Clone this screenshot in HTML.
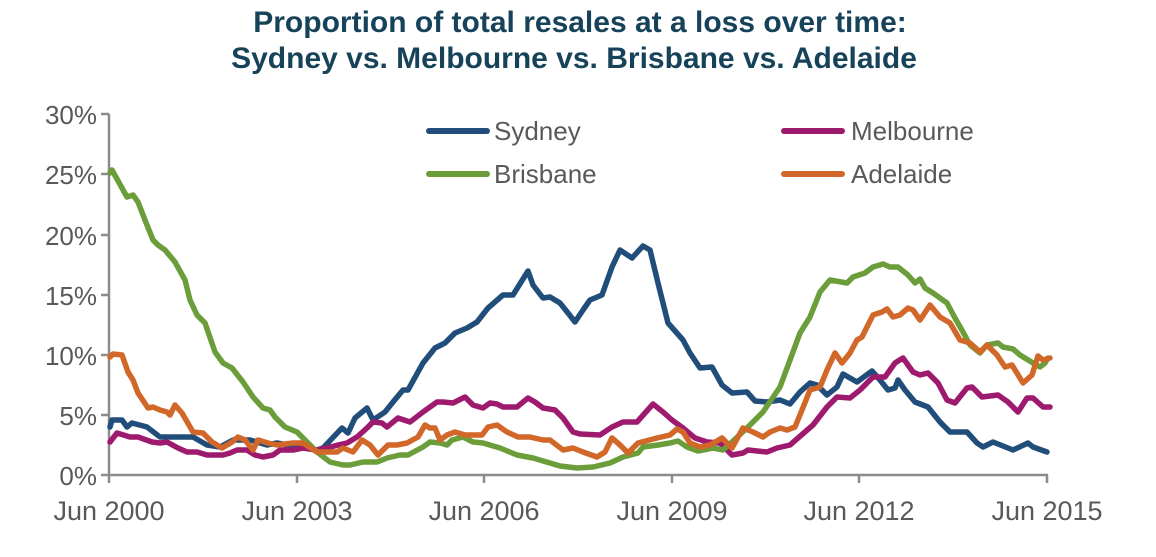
<!DOCTYPE html>
<html><head><meta charset="utf-8"><style>
body{margin:0;background:#fff;width:1156px;height:552px;overflow:hidden;font-family:"Liberation Sans",Arial,sans-serif}
</style></head><body>
<svg width="1156" height="552" viewBox="0 0 1156 552" xmlns="http://www.w3.org/2000/svg">
<g font-family="Liberation Sans, Arial, sans-serif" font-weight="bold" font-size="30" fill="#17435a" text-anchor="middle">
<text x="580" y="32">Proportion of total resales at a loss over time:</text>
<text x="574" y="68">Sydney vs. Melbourne vs. Brisbane vs. Adelaide</text>
</g>
<g stroke="#8c8c8c" stroke-width="2.5" fill="none">
<line x1="109" y1="114" x2="109" y2="476"/>
<line x1="109" y1="475" x2="1048" y2="475"/>
<path d="M101 114H109M101 174H109M101 235H109M101 295H109M101 355H109M101 415H109M101 475H109"/>
<path d="M109 475V483M297 475V483M484 475V483M672 475V483M859 475V483M1047 475V483"/>
</g>
<g font-size="26" fill="#595959" text-anchor="end">
<text x="97" y="124">30%</text><text x="97" y="184">25%</text><text x="97" y="245">20%</text>
<text x="97" y="305">15%</text><text x="97" y="365">10%</text><text x="97" y="425">5%</text><text x="97" y="485">0%</text>
</g>
<g font-size="27" fill="#595959" text-anchor="middle">
<text x="109" y="520">Jun 2000</text><text x="297" y="520">Jun 2003</text><text x="484" y="520">Jun 2006</text>
<text x="672" y="520">Jun 2009</text><text x="859" y="520">Jun 2012</text><text x="1047" y="520">Jun 2015</text>
</g>
<g fill="none" stroke-width="5.5" stroke-linejoin="round" stroke-linecap="round">
<polyline stroke="#214d7a" points="110,427 112,420 122,420 127,427 132,423 147,427 160,437 187,437 193,437 207,445 220,447 233,440 250,440 267,445 277,443 297,447 317,450 323,448 342,428 348,433 355,418 367,408 373,420 385,412 393,402 403,390 408,390 423,363 435,348 445,343 455,333 467,328 477,322 488,308 503,295 513,295 528,271 533,285 543,298 550,297 560,303 568,313 575,322 583,310 590,300 602,295 612,267 620,250 632,258 643,246 650,250 658,283 668,323 683,340 690,353 700,368 712,367 722,385 732,393 747,392 755,401 767,402 780,400 790,404 800,392 810,383 817,385 827,395 837,387 843,374 857,382 872,371 880,380 888,390 895,388 898,380 905,390 915,402 928,407 940,422 950,432 967,432 977,443 983,447 993,442 1013,450 1028,443 1033,447 1047,452"/>
<polyline stroke="#9e1a6e" points="110,442 117,433 130,437 138,437 152,442 160,443 167,442 178,448 187,452 197,452 207,455 223,455 230,453 237,450 247,450 255,455 263,457 273,455 280,450 293,450 303,448 317,450 327,448 338,445 347,443 357,437 367,428 373,422 382,423 387,427 398,418 410,422 423,412 437,402 443,402 453,403 465,397 473,405 483,408 490,403 497,404 503,407 517,407 528,398 535,402 543,408 555,410 563,418 573,432 580,434 600,435 612,427 623,422 637,422 645,413 653,404 663,412 672,420 683,428 695,438 707,442 720,443 732,455 743,453 748,450 767,452 777,448 790,445 798,438 813,425 827,407 837,397 850,398 860,390 873,377 885,377 895,363 903,358 913,372 920,375 928,373 938,383 947,400 955,403 967,388 972,387 982,397 998,395 1008,402 1018,412 1027,398 1033,398 1043,407 1050,407"/>
<polyline stroke="#6b9e3a" points="110,173 112,170 122,188 127,197 133,195 138,202 145,220 153,240 158,245 165,250 175,262 185,280 190,300 197,315 205,323 215,352 223,363 232,368 243,382 253,397 263,408 270,410 275,417 285,427 297,432 307,442 317,452 330,462 343,465 350,465 363,462 377,462 387,458 400,455 408,455 423,447 430,442 440,443 447,445 452,440 463,437 473,442 483,443 500,448 517,455 533,458 550,463 560,466 577,468 593,467 610,463 623,457 638,453 643,447 658,445 670,443 678,441 687,447 698,451 713,448 723,450 733,441 747,428 763,412 780,387 790,360 800,333 810,317 820,292 830,280 847,283 853,277 865,273 873,267 883,264 890,267 898,267 908,275 915,283 920,279 925,288 933,293 947,303 955,318 963,332 970,345 980,353 987,345 998,343 1003,347 1013,349 1020,355 1033,363 1040,367 1045,363 1048,358"/>
<polyline stroke="#d2672a" points="110,357 113,354 122,355 128,372 133,380 138,393 148,408 153,407 160,410 167,412 170,415 175,405 182,413 193,432 203,433 212,442 222,448 232,442 238,437 245,440 253,450 258,440 268,443 277,445 293,443 303,443 317,452 327,452 337,452 343,448 353,452 362,440 370,445 378,455 388,445 397,445 407,443 418,437 425,425 430,428 435,428 440,440 447,435 455,432 465,435 473,435 482,435 488,427 497,425 507,432 518,437 530,437 543,440 550,440 563,450 573,448 583,452 597,457 605,452 612,438 620,445 628,453 638,443 657,438 670,435 677,429 683,432 690,443 700,447 710,445 722,438 732,448 743,428 753,432 763,437 770,432 780,428 787,430 795,427 802,410 810,390 820,387 827,370 835,353 842,363 850,353 857,340 862,337 873,315 882,312 887,309 893,317 900,315 908,308 913,310 920,320 930,305 940,317 950,323 960,340 970,343 980,352 987,345 997,355 1005,367 1012,365 1023,383 1032,375 1038,356 1043,360 1050,358"/>
</g>
<g stroke-width="6" stroke-linecap="round">
<line x1="429" y1="131" x2="487" y2="131" stroke="#214d7a"/>
<line x1="784" y1="131" x2="842" y2="131" stroke="#9e1a6e"/>
<line x1="429" y1="174" x2="487" y2="174" stroke="#6b9e3a"/>
<line x1="784" y1="174" x2="842" y2="174" stroke="#d2672a"/>
</g>
<g font-size="26" fill="#595959">
<text x="494" y="140">Sydney</text><text x="851" y="140">Melbourne</text>
<text x="494" y="183">Brisbane</text><text x="851" y="183">Adelaide</text>
</g>
</svg>
</body></html>
